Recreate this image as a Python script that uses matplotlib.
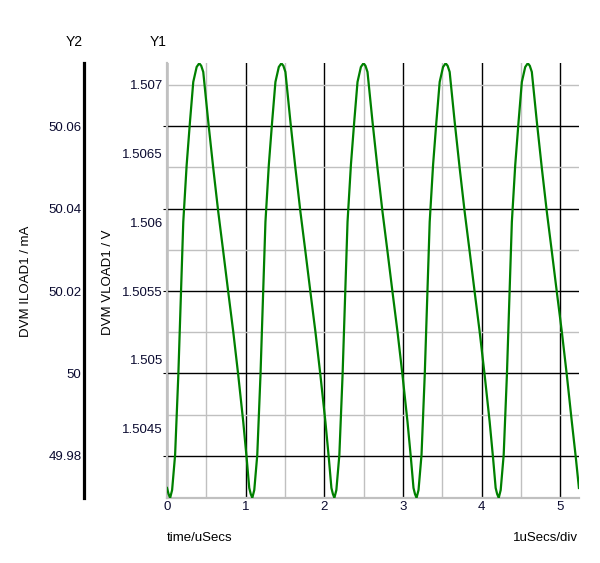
import matplotlib
matplotlib.use("Agg")
import matplotlib.pyplot as plt

plt.rcParams['font.family'] = ['Liberation Sans', 'DejaVu Sans']
plt.rcParams['font.size'] = 9.5

# time in us, DVM VLOAD1 in V
time_us = [
    0.000, 0.020,
    0.040, 0.065, 0.103, 0.144, 0.174, 0.207, 0.250, 0.292, 0.334, 0.377, 0.410, 0.435,
    0.461, 0.525, 0.588, 0.652, 0.716, 0.779, 0.843, 0.906, 0.970, 1.013, 1.046, 1.065,
    1.085, 1.110, 1.148, 1.189, 1.219, 1.252, 1.295, 1.337, 1.379, 1.422, 1.455, 1.480,
    1.506, 1.570, 1.633, 1.697, 1.761, 1.824, 1.888, 1.951, 2.015, 2.058, 2.091, 2.110,
    2.129, 2.154, 2.192, 2.233, 2.263, 2.296, 2.339, 2.381, 2.423, 2.466, 2.499, 2.524,
    2.550, 2.614, 2.677, 2.741, 2.805, 2.868, 2.932, 2.995, 3.059, 3.102, 3.135, 3.154,
    3.174, 3.199, 3.237, 3.278, 3.308, 3.341, 3.384, 3.426, 3.468, 3.511, 3.544, 3.569,
    3.595, 3.659, 3.722, 3.786, 3.850, 3.913, 3.977, 4.040, 4.104, 4.147, 4.180, 4.199,
    4.219, 4.244, 4.282, 4.323, 4.353, 4.386, 4.429, 4.471, 4.513, 4.556, 4.589, 4.614,
    4.640, 4.704, 4.767, 4.831, 4.895, 4.958, 5.022, 5.085, 5.149, 5.200, 5.239,
]
vload = [
    1.504067, 1.504023,
    1.503995, 1.504052, 1.504307, 1.504889, 1.505421, 1.506003, 1.506418, 1.506731, 1.507022, 1.507131, 1.507158, 1.507140,
    1.507095, 1.506731, 1.506396, 1.506076, 1.505785, 1.505493, 1.505202, 1.504889, 1.504547, 1.504285, 1.504067, 1.504023,
    1.503995, 1.504052, 1.504307, 1.504889, 1.505421, 1.506003, 1.506418, 1.506731, 1.507022, 1.507131, 1.507158, 1.507140,
    1.507095, 1.506731, 1.506396, 1.506076, 1.505785, 1.505493, 1.505202, 1.504889, 1.504547, 1.504285, 1.504067, 1.504023,
    1.503995, 1.504052, 1.504307, 1.504889, 1.505421, 1.506003, 1.506418, 1.506731, 1.507022, 1.507131, 1.507158, 1.507140,
    1.507095, 1.506731, 1.506396, 1.506076, 1.505785, 1.505493, 1.505202, 1.504889, 1.504547, 1.504285, 1.504067, 1.504023,
    1.503995, 1.504052, 1.504307, 1.504889, 1.505421, 1.506003, 1.506418, 1.506731, 1.507022, 1.507131, 1.507158, 1.507140,
    1.507095, 1.506731, 1.506396, 1.506076, 1.505785, 1.505493, 1.505202, 1.504889, 1.504547, 1.504285, 1.504067, 1.504023,
    1.503995, 1.504052, 1.504307, 1.504889, 1.505421, 1.506003, 1.506418, 1.506731, 1.507022, 1.507131, 1.507158, 1.507140,
    1.507095, 1.506731, 1.506396, 1.506076, 1.505785, 1.505493, 1.505202, 1.504889, 1.504547, 1.504285, 1.504067,
]

x_ticks = [0, 1, 2, 3, 4, 5]
x_minor = [0.5, 1.5, 2.5, 3.5, 4.5]
y1_ticks = [1.5045, 1.505, 1.5055, 1.506, 1.5065, 1.507]
y1_labels = ["1.5045", "1.505", "1.5055", "1.506", "1.5065", "1.507"]
y2_ticks = [49.98, 50.0, 50.02, 50.04, 50.06]
y2_labels = ["49.98", "50", "50.02", "50.04", "50.06"]
y2_minor = [49.99, 50.01, 50.03, 50.05, 50.07]

GREY = "#c0c0c0"
TXT = "#0a0a30"

fig = plt.figure(figsize=(6, 5.63), dpi=100)
W, H = 600, 563
x0, x1, ytop, ybot = 167, 579, 63, 498
rect = [x0 / W, 1 - ybot / H, (x1 - x0) / W, (ybot - ytop) / H]

# host axes carries the grid (Y2 scale)
axg = fig.add_axes(rect)
axg.set_xlim(0, 5.24)
axg.set_ylim(49.9698, 50.0753)
axg.set_axisbelow(True)
axg.set_xticks(x_ticks)
axg.set_xticks(x_minor, minor=True)
axg.set_yticks(y2_ticks)
axg.set_yticks(y2_minor, minor=True)
axg.set_yticklabels([])
axg.grid(True, which="major", color="black", lw=1.0)
axg.grid(True, which="minor", color=GREY, lw=1.0)
axg.tick_params(axis="x", which="both", length=0, pad=2.5, labelcolor=TXT)
axg.tick_params(axis="y", which="major", direction="out", length=3, width=0.8, color="black")
axg.tick_params(axis="y", which="minor", length=0)
for s in ["top", "right"]:
    axg.spines[s].set_visible(False)
for s in ["left", "bottom"]:
    axg.spines[s].set_color(GREY)
    axg.spines[s].set_linewidth(1.6)

# separate Y2 axis line on the far left
ax2 = axg.twinx()
ax2.set_ylim(axg.get_ylim())
ax2.yaxis.tick_left()
ax2.set_yticks(y2_ticks)
ax2.set_yticklabels(y2_labels)
ax2.tick_params(axis="y", length=0, pad=1.5, labelcolor=TXT)
for s in ["top", "right", "bottom"]:
    ax2.spines[s].set_visible(False)
ax2.spines["left"].set_position(("axes", (83.5 - x0) / (x1 - x0)))
ax2.spines["left"].set_linewidth(2.3)
ax2.spines["left"].set_color("black")

# Y1 axis with the trace
ax1 = axg.twinx()
ax1.set_ylim(1.503994, 1.507160)
ax1.yaxis.tick_left()
ax1.set_yticks(y1_ticks)
ax1.set_yticklabels(y1_labels)
ax1.tick_params(axis="y", length=0, pad=3, labelcolor=TXT)
for s in ax1.spines.values():
    s.set_visible(False)
ax1.plot(time_us, vload, color="#008000", lw=1.6)

fig.text(83 / W, 1 - 42.5 / H, "Y2", ha="right", va="center", fontsize=10)
fig.text(167 / W, 1 - 42.5 / H, "Y1", ha="right", va="center", fontsize=10)
fig.text(26 / W, 1 - 281 / H, "DVM ILOAD1 / mA", rotation=90, ha="center", va="center")
fig.text(108 / W, 1 - 282 / H, "DVM VLOAD1 / V", rotation=90, ha="center", va="center")
fig.text(167 / W, 1 - 538 / H, "time/uSecs", ha="left", va="center")
fig.text(578 / W, 1 - 538 / H, "1uSecs/div", ha="right", va="center")

fig.savefig("out.png", dpi=100)
